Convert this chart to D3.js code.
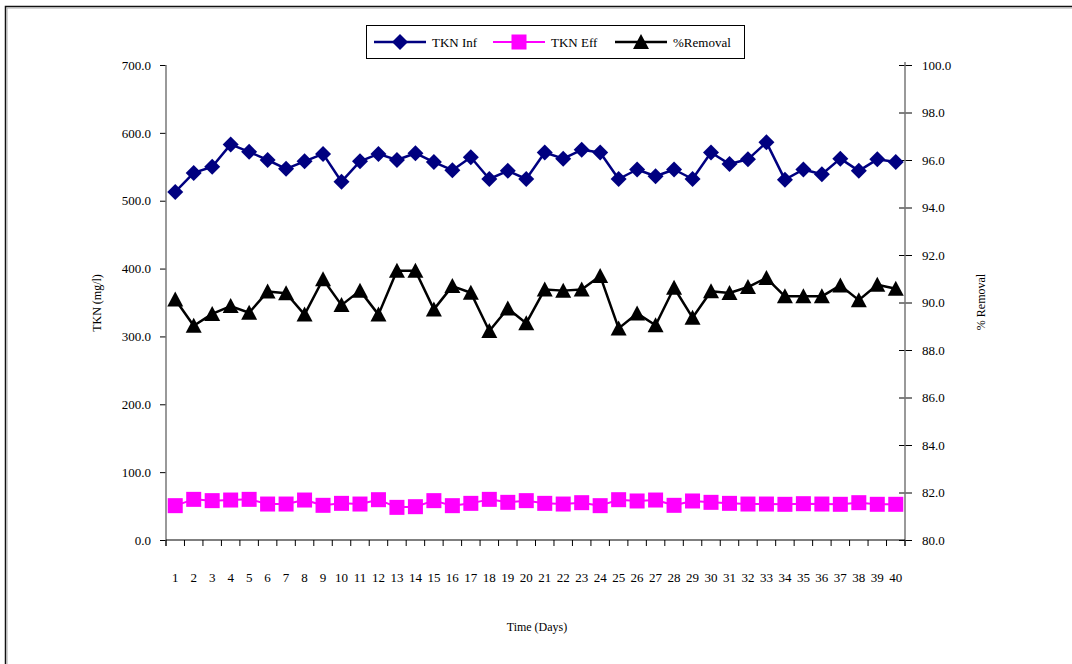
<!DOCTYPE html>
<html>
<head>
<meta charset="utf-8">
<script src="https://cdn.jsdelivr.net/npm/d3@7"></script>
<style>
  html, body { margin: 0; padding: 0; background: #fff; }
  svg { display: block; }
  svg text { font-family: "Liberation Serif", "Times New Roman", Times, "DejaVu Serif", serif !important; fill: #000; }
</style>
</head>
<body>
<svg id="chart" width="1072" height="664"></svg>
<script>
// Day labels along the x axis
const days = ["1","2","3","4","5","6","7","8","9","10",
  "11","12","13","14","15","16","17","18","19","20",
  "21","22","23","24","25","26","27","28","29","30",
  "31","32","33","34","35","36","37","38","39","40"];

// Influent TKN (mg/l)
const tknInf = [513, 541, 550, 583, 572, 560, 547, 558, 569, 528,
  558, 569, 560, 570, 557, 545, 564, 532, 544, 532,
  571, 562, 575, 571, 532, 546, 536, 546, 532, 571,
  554, 561, 586, 531, 546, 539, 562, 544, 561, 557];

// Effluent TKN (mg/l)
const tknEff = [50.6, 59.9, 58.0, 58.9, 59.9, 53.0, 53.0, 58.9, 51.1, 54.0,
  53.0, 59.4, 48.1, 49.1, 58.0, 50.6, 54.0, 59.9, 55.5, 58.0,
  54.0, 53.0, 55.0, 50.6, 59.4, 57.5, 58.9, 51.1, 57.5, 55.5,
  54.0, 53.0, 53.0, 52.6, 53.5, 53.0, 52.6, 55.0, 52.6, 52.6];

// TKN removal efficiency (%)
const removal = [90.13, 89.02, 89.52, 89.85, 89.57, 90.46, 90.39, 89.49, 90.98, 89.89,
  90.50, 89.49, 91.34, 91.34, 89.71, 90.69, 90.41, 88.80, 89.75, 89.13,
  90.55, 90.50, 90.55, 91.12, 88.91, 89.54, 89.04, 90.62, 89.36, 90.47,
  90.40, 90.65, 91.03, 90.26, 90.26, 90.26, 90.72, 90.10, 90.75, 90.58];

// Axis tick values
const leftTicks = [0, 100, 200, 300, 400, 500, 600, 700];
const rightTicks = [80, 82, 84, 86, 88, 90, 92, 94, 96, 98, 100];

const svg = d3.select("#chart");

const plot = { left: 166, right: 905, top: 65, bottom: 540 };

const x = d3.scaleBand().domain(days).range([plot.left, plot.right]);
const cx = d => x(d) + x.bandwidth() / 2;
const yL = d3.scaleLinear().domain([0, 700]).range([plot.bottom, plot.top]);
const yR = d3.scaleLinear().domain([80, 100]).range([plot.bottom, plot.top]);

// Page frame (top and left edges)
svg.append("path")
  .attr("d", "M5.5,664 V6.5 H1072")
  .attr("fill", "none").attr("stroke", "#111").attr("stroke-width", 1.5);
svg.append("path")
  .attr("d", "M7,664 V8 H1072")
  .attr("fill", "none").attr("stroke", "#aaa").attr("stroke-width", 1);

// Left axis (TKN)
const gL = svg.append("g").attr("transform", `translate(${plot.left},0)`)
  .call(d3.axisLeft(yL).tickValues(leftTicks).tickFormat(d3.format(".1f"))
    .tickSize(6).tickPadding(9));
gL.attr("font-family", null);
gL.select(".domain").remove();
gL.selectAll(".tick line").attr("stroke", "#000");
gL.selectAll(".tick text").attr("font-size", 13);
svg.append("line")
  .attr("x1", plot.left).attr("x2", plot.left)
  .attr("y1", plot.top).attr("y2", plot.bottom + 6)
  .attr("stroke", "#777").attr("stroke-width", 1.5);

// Right axis (% removal), ticks crossing the axis line
const gR = svg.append("g").attr("transform", `translate(${plot.right},0)`)
  .call(d3.axisRight(yR).tickValues(rightTicks).tickFormat(d3.format(".1f"))
    .tickSize(7).tickPadding(10));
gR.attr("font-family", null);
gR.select(".domain").remove();
gR.selectAll(".tick line").attr("x1", -6).attr("stroke", "#000");
gR.selectAll(".tick text").attr("font-size", 13);
svg.append("line")
  .attr("x1", plot.right).attr("x2", plot.right)
  .attr("y1", plot.top - 3).attr("y2", plot.bottom + 6)
  .attr("stroke", "#777").attr("stroke-width", 1.5);

// Bottom axis: ticks on band edges, labels centred in each band
svg.append("line")
  .attr("x1", plot.left).attr("x2", plot.right)
  .attr("y1", plot.bottom).attr("y2", plot.bottom)
  .attr("stroke", "#000").attr("stroke-width", 1);
const edges = days.map(d => x(d)).concat([plot.right]);
svg.append("g").selectAll("line").data(edges).join("line")
  .attr("x1", d => d).attr("x2", d => d)
  .attr("y1", plot.bottom).attr("y2", plot.bottom + 6)
  .attr("stroke", "#000");
svg.append("g").selectAll("text").data(days).join("text")
  .attr("x", d => cx(d)).attr("y", 582)
  .attr("text-anchor", "middle").attr("font-size", 13)
  .text(d => d);

// Axis titles
svg.append("text")
  .attr("transform", "translate(101,303) rotate(-90)")
  .attr("text-anchor", "middle").attr("font-size", 12)
  .text("TKN (mg/l)");
svg.append("text")
  .attr("transform", "translate(985,302) rotate(-90)")
  .attr("text-anchor", "middle").attr("font-size", 12)
  .text("% Removal");
svg.append("text")
  .attr("x", 537).attr("y", 631)
  .attr("text-anchor", "middle").attr("font-size", 12)
  .text("Time (Days)");

// Series drawing
function drawSeries(values, yScale, color, width, markerFn) {
  const line = d3.line().x((v, i) => cx(days[i])).y(v => yScale(v));
  svg.append("path").datum(values)
    .attr("d", line).attr("fill", "none")
    .attr("stroke", color).attr("stroke-width", width)
    .attr("stroke-linejoin", "round");
  const g = svg.append("g");
  values.forEach((v, i) => markerFn(g, cx(days[i]), yScale(v), color));
}

function diamondMarker(g, px, py, color) {
  g.append("path").attr("d", "M0,-8 L8,0 L0,8 L-8,0 Z")
    .attr("transform", `translate(${px},${py})`).attr("fill", color);
}
function squareMarker(g, px, py, color) {
  g.append("rect").attr("x", px - 7.5).attr("y", py - 7.5)
    .attr("width", 15).attr("height", 15).attr("fill", color);
}
function triangleMarker(g, px, py, color) {
  g.append("path").attr("d", "M0,-8 L8,7 L-8,7 Z")
    .attr("transform", `translate(${px},${py})`).attr("fill", color);
}

drawSeries(tknEff, yL, "#ff00ff", 2, squareMarker);
drawSeries(removal, yR, "#000000", 2.5, triangleMarker);
drawSeries(tknInf, yL, "#000080", 2.5, diamondMarker);

// Legend
const lg = svg.append("g");
lg.append("rect").attr("x", 366.5).attr("y", 25.5).attr("width", 378).attr("height", 33)
  .attr("fill", "#fff").attr("stroke", "#000").attr("stroke-width", 1);
const legendItems = [
  { name: "TKN Inf", color: "#000080", x0: 374, marker: diamondMarker, w: 2.5 },
  { name: "TKN Eff", color: "#ff00ff", x0: 493, marker: squareMarker, w: 2 },
  { name: "%Removal", color: "#000000", x0: 615, marker: triangleMarker, w: 2.5 }
];
legendItems.forEach(it => {
  lg.append("line").attr("x1", it.x0).attr("x2", it.x0 + 52)
    .attr("y1", 42).attr("y2", 42).attr("stroke", it.color).attr("stroke-width", it.w);
  it.marker(lg, it.x0 + 26, 42, it.color);
  lg.append("text").attr("x", it.x0 + 58).attr("y", 46.5)
    .attr("font-size", 13).text(it.name);
});
</script>
</body>
</html>
